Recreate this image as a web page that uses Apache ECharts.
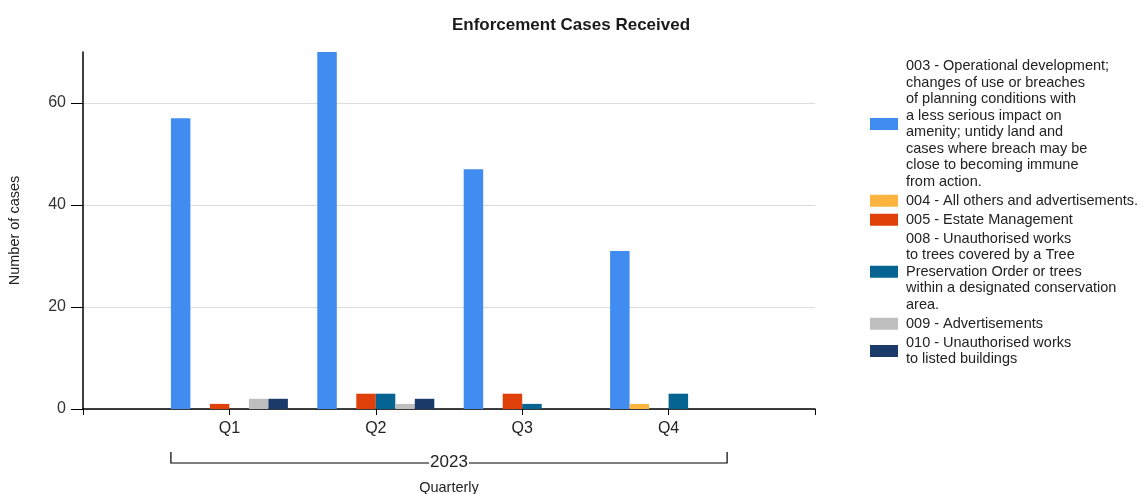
<!DOCTYPE html>
<html>
<head>
<meta charset="utf-8">
<script src="https://cdn.jsdelivr.net/npm/echarts@6/dist/echarts.min.js"></script>
<style>
html,body{margin:0;padding:0;background:#fff;}
#c{width:1142px;height:494px;}
</style>
</head>
<body>
<div id="c"></div>
<script>
const categories = ['', 'Q1', 'Q2', 'Q3', 'Q4', ''];
const yearLabel = '2023';
const seriesNames = [
  '003 - Operational development;\nchanges of use or breaches\nof planning conditions with\na less serious impact on\namenity; untidy land and\ncases where breach may be\nclose to becoming immune\nfrom action.',
  '004 - All others and advertisements.',
  '005 - Estate Management',
  '008 - Unauthorised works\nto trees covered by a Tree\nPreservation Order or trees\nwithin a designated conservation\narea.',
  '009 - Advertisements',
  '010 - Unauthorised works\nto listed buildings'
];
const s003 = [null, 57, 70, 47, 31, null];
const s004 = [null, 0, 0, 0, 1, null];
const s005 = [null, 1, 3, 3, 0, null];
const s008 = [null, 0, 3, 1, 3, null];
const s009 = [null, 2, 1, 0, 0, null];
const s010 = [null, 2, 2, 0, 0, null];
const yTicks = [0, 20, 40, 60];
const colors = ['#418CF0', '#FCB441', '#E0400A', '#056492', '#BFBFBF', '#1A3B69'];

const allData = [s003, s004, s005, s008, s009, s010];
const BAR_W = 19.5;
const FONT = 'Arial, "Liberation Sans", sans-serif';

const chart = echarts.init(document.getElementById('c'), null, {renderer: 'canvas'});
const option = {
  animation: false,
  color: colors,
  textStyle: {fontFamily: FONT},
  title: {
    text: 'Enforcement Cases Received',
    left: 'center',
    top: 12,
    textStyle: {fontSize: 17, fontWeight: 'bold', color: '#1a1a1a', fontFamily: FONT}
  },
  legend: {
    orient: 'vertical',
    left: 870,
    top: 58,
    padding: 0,
    itemWidth: 28,
    itemHeight: 12,
    itemGap: 2.5,
    icon: 'rect',
    data: seriesNames,
    textStyle: {fontSize: 14.5, lineHeight: 16.5, color: '#222', fontFamily: FONT, padding: [0, 0, 0, 3]}
  },
  grid: {left: 83, right: 327, top: 52, bottom: 85, containLabel: false, outerBoundsMode: 'none'},
  xAxis: {
    type: 'category',
    data: categories,
    boundaryGap: false,
    name: 'Quarterly',
    nameLocation: 'middle',
    nameGap: 71,
    nameTextStyle: {fontSize: 14.5, color: '#222'},
    axisLine: {lineStyle: {color: '#000', width: 1.5}},
    axisTick: {length: 6, lineStyle: {color: '#000'}},
    axisLabel: {fontSize: 16, color: '#222', margin: 12},
    splitLine: {show: false}
  },
  yAxis: {
    type: 'value',
    min: 0,
    max: 70,
    interval: 20,
    name: 'Number of cases',
    nameLocation: 'middle',
    nameGap: 61,
    nameTextStyle: {fontSize: 14.5, color: '#222'},
    axisLine: {show: true, lineStyle: {color: '#000', width: 1.5}},
    axisTick: {show: true, length: 12, lineStyle: {color: '#000'}, customValues: yTicks},
    axisLabel: {fontSize: 16, color: '#333', margin: 17, customValues: yTicks},
    splitLine: {show: true, lineStyle: {color: '#dcdcdc', width: 1}}
  },
  series: allData.map((d, i) => ({
    type: 'bar',
    name: seriesNames[i],
    data: d,
    barWidth: BAR_W,
    barGap: 0,
    itemStyle: {color: colors[i], borderWidth: 0}
  }))
};
chart.setOption(option);

// bracket for the year group, positioned from the axis scale
const p1 = chart.convertToPixel({xAxisIndex: 0, yAxisIndex: 0}, [1, 0]);
const p4 = chart.convertToPixel({xAxisIndex: 0, yAxisIndex: 0}, [4, 0]);
const x1 = p1[0] - 3 * BAR_W;
const x2 = p4[0] + 3 * BAR_W;
const yb = p1[1] + 54;
chart.setOption({
  graphic: [
    {type: 'polyline', shape: {points: [[x1, yb - 11], [x1, yb], [x2, yb], [x2, yb - 11]]},
     style: {stroke: '#000', lineWidth: 1.2, fill: null}},
    {type: 'text', x: (x1 + x2) / 2, y: yb - 1, style: {text: yearLabel, fontSize: 17, fill: '#222',
     fontFamily: FONT, align: 'center', verticalAlign: 'middle', backgroundColor: '#fff', padding: [0, 1]}}
  ]
});
</script>
</body>
</html>
